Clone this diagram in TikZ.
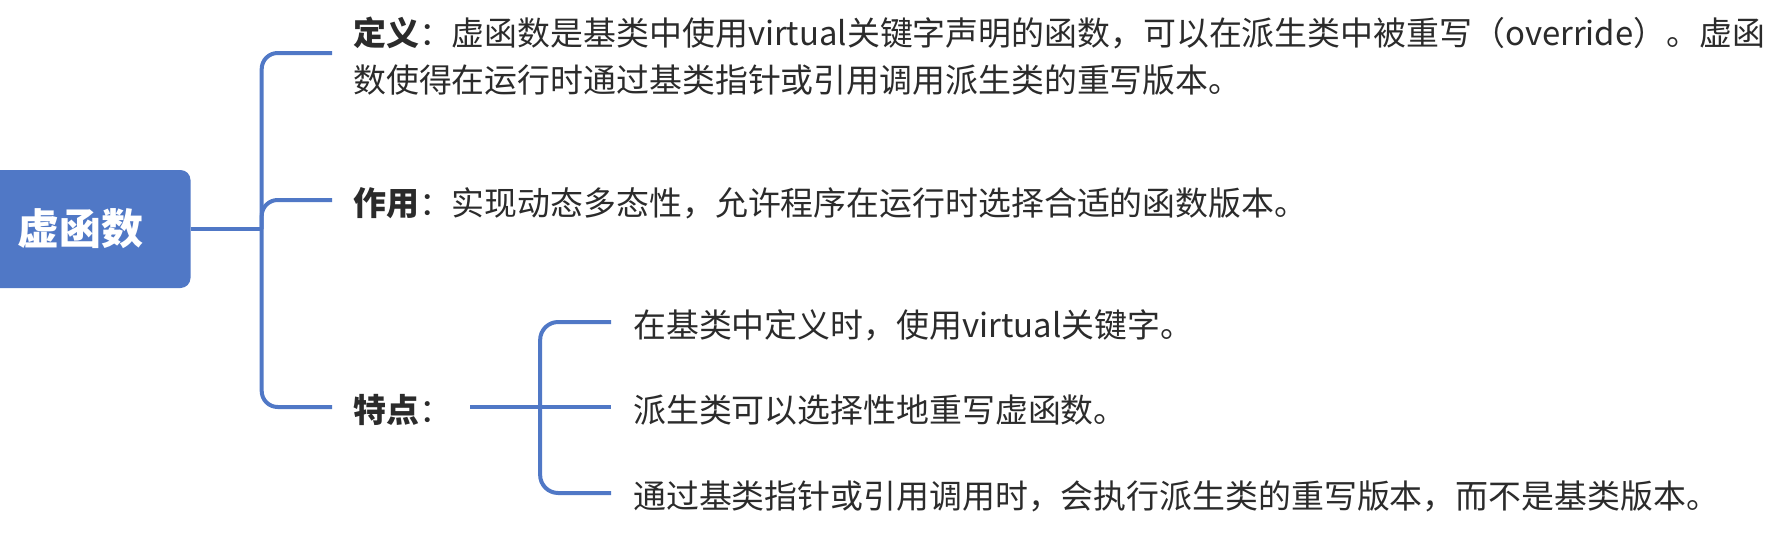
\documentclass[tikz,border=0pt]{standalone}
\usepackage{fontspec}
\setmainfont{Noto Sans CJK SC}
\usepackage{xcolor}
\usetikzlibrary{calc,positioning}
\definecolor{mapblue}{HTML}{5078C6}
\definecolor{maptext}{HTML}{2B2B2B}
\tikzset{%
	root/.style     = {fill=mapblue, rounded corners=10pt, minimum width=221pt, minimum height=118pt, inner sep=0pt, text=white, font=\fontsize{42}{50}\selectfont\bfseries}, % central topic
	topic/.style    = {anchor=west, inner sep=0pt, text=maptext, align=left, font=\fontsize{32.9}{47}\selectfont}, % branch text
	branch/.style   = {draw=mapblue, line width=4pt, rounded corners=16pt},
	twig/.style     = {branch, rounded corners=18pt},
	waypoint/.style = {coordinate},
}

\begin{document}
\begin{tikzpicture}[x=1pt,y=1pt,node distance=21pt]
	\useasboundingbox (0,0) rectangle (1780,-538);
	\node [root] (vf) at (80,-229) {虚函数};
	\node [waypoint] (fork) [right=71pt of vf] {};
	\node [topic] (def) at (353,-56) {\textbf{定义}：虚函数是基类中使用virtual关键字声明的函数，可以在派生类中被重写（override）。虚函\\数使得在运行时通过基类指针或引用调用派生类的重写版本。};
	\node [topic] (use) at (353,-203) {\textbf{作用}：实现动态多态性，允许程序在运行时选择合适的函数版本。};
	\node [topic] (feat) at (353,-410) {\textbf{特点}：};
	\node [waypoint] (featout) [right=18pt of feat] {};
	\node [topic] (f1) at (633,-325) {在基类中定义时，使用virtual关键字。};
	\node [topic] (f2) at (633,-410) {派生类可以选择性地重写虚函数。};
	\node [topic] (f3) at (633,-496) {通过基类指针或引用调用时，会执行派生类的重写版本，而不是基类版本。};
	\node [waypoint] (subfork) at ($ (featout)!0.43!(f2.west) $) {};

	\draw [branch] (vf) -- (fork);
	\draw [branch] (fork) |- ([xshift=-21pt,yshift=3pt]def.west);
	\draw [branch] (fork) |- ([xshift=-21pt,yshift=3pt]use.west);
	\draw [branch] (fork) |- ([xshift=-21pt,yshift=3pt]feat.west);
	\draw [twig] ([yshift=3pt]featout) -- ([xshift=-22pt,yshift=3pt]f2.west);
	\draw [twig] ([yshift=3pt]subfork) |- ([xshift=-22pt,yshift=3pt]f1.west);
	\draw [twig] ([yshift=3pt]subfork) |- ([xshift=-22pt,yshift=3pt]f3.west);
\end{tikzpicture}
\end{document}
